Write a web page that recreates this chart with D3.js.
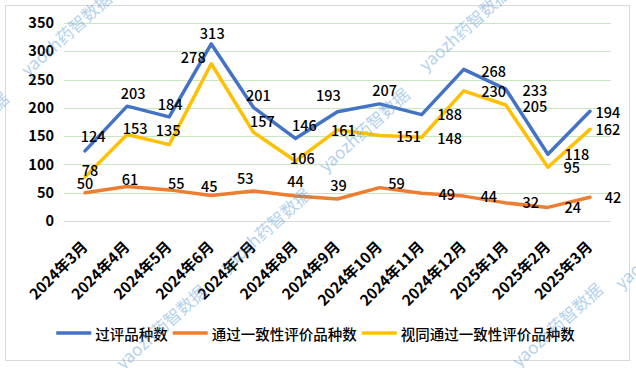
<!DOCTYPE html>
<html>
<head>
<meta charset="utf-8">
<script src="https://cdn.jsdelivr.net/npm/d3@7"></script>
<style>
  html, body { margin: 0; padding: 0; background: #fff; }
  svg { display: block; }
</style>
</head>
<body>
<svg id="chart" width="636" height="368"></svg>
<script>
// ---- data ----
const months = ["2024年3月","2024年4月","2024年5月","2024年6月","2024年7月","2024年8月","2024年9月","2024年10月","2024年11月","2024年12月","2025年1月","2025年2月","2025年3月"];
const seriesNames = ["过评品种数","通过一致性评价品种数","视同通过一致性评价品种数"];
const passed = [124,203,184,313,201,146,193,207,188,268,233,118,194];
const consistency = [50,61,55,45,53,44,39,59,49,44,32,24,42];
const equivalent = [78,153,135,278,157,106,161,151,148,230,205,95,162];
const yTicks = [0,50,100,150,200,250,300,350];

// ---- label placement (pixel offsets of label centre from point) ----
const offPassed = [[8,-15],[6,-14],[1,-13],[1,-11],[5,-13],[9,-14],[-9,-17],[5,-14],[28,-1],[30,1],[29,0],[29,-1],[18,0]];
const offConsistency = [[0,-10],[3,-8],[7,-7],[-2,-10],[-8,-14],[0,-16],[1,-14],[17,-5],[25,0],[25,-1],[25,-1],[25,-1],[23,-1]];
const offEquivalent = [[5,-7],[8,-7],[-1,-15],[-18,-7],[9,-12],[7,-4],[6,0],[29,0],[28,0],[30,0],[29,0],[24,-1],[18,-1]];

const colors = ["#4472C4","#ED7D31","#FFC000"];
const FONT = "'Noto Sans CJK SC','Noto Sans',sans-serif";

const svg = d3.select("#chart");

// frame
svg.append("rect").attr("x",5.5).attr("y",5.5).attr("width",624).attr("height",355)
  .attr("fill","#fff").attr("stroke","#d9d9d9").attr("stroke-width",1);

const x = d3.scalePoint().domain(months).range([64,611]).padding(0.5);
const y = d3.scaleLinear().domain([0,350]).range([221,23]);

// gridlines
const g = svg.append("g");
g.selectAll("line.grid").data(yTicks).join("line")
  .attr("x1",64).attr("x2",611)
  .attr("y1",d=>Math.round(y(d))+0.5).attr("y2",d=>Math.round(y(d))+0.5)
  .attr("stroke",d=> d===0 ? "#d9d9d9" : "#c6e7c0").attr("stroke-width",1);

// y axis labels
const yAxis = d3.axisLeft(y).tickValues(yTicks).tickSize(0).tickPadding(0);
const ya = svg.append("g").attr("transform","translate(54,0)").call(yAxis);
ya.select(".domain").remove();
ya.selectAll("text").attr("font-family",FONT).attr("font-size",14.5).attr("font-weight","bold").attr("fill","#000");

// x axis labels
const xAxis = d3.axisBottom(x).tickSize(0).tickPadding(0);
const xa = svg.append("g").attr("transform","translate(0,221)").call(xAxis);
xa.select(".domain").remove();
xa.selectAll("text")
  .attr("font-family",FONT).attr("font-size",15).attr("font-weight","bold").attr("fill","#000")
  .attr("text-anchor","end").attr("dy",null).attr("y",null)
  .attr("transform","translate(3,27) rotate(-45)");

// lines
const series = [passed, consistency, equivalent];
const offsets = [offPassed, offConsistency, offEquivalent];
const line = d3.line().x((d,i)=>x(months[i])).y(d=>y(d));
// draw order: orange, yellow, blue
[1,2,0].forEach(k=>{
  svg.append("path").datum(series[k]).attr("d",line)
    .attr("fill","none").attr("stroke",colors[k]).attr("stroke-width",3.5)
    .attr("stroke-linejoin","round").attr("stroke-linecap","round");
});

// data labels
[0,1,2].forEach(k=>{
  svg.append("g").selectAll("text").data(series[k]).join("text")
    .attr("x",(d,i)=>x(months[i])+offsets[k][i][0])
    .attr("y",(d,i)=>y(d)+offsets[k][i][1])
    .attr("text-anchor","middle").attr("dominant-baseline","central")
    .attr("font-family",FONT).attr("font-size",14.5).attr("font-weight",500).attr("fill","#000")
    .text(d=>d);
});

// legend
const leg = svg.append("g");
let cx = 0;
seriesNames.forEach((name,k)=>{
  const it = leg.append("g").attr("transform",`translate(${cx},0)`);
  it.append("line").attr("x1",0).attr("x2",35).attr("y1",0).attr("y2",0)
    .attr("stroke",colors[k]).attr("stroke-width",3.5);
  const t = it.append("text").attr("x",39).attr("y",0).attr("dominant-baseline","central")
    .attr("font-family",FONT).attr("font-size",14.5).attr("font-weight",500).attr("fill","#000").text(name);
  const w = t.node().getComputedTextLength();
  cx += 39 + w + 5;
});
const totalW = cx - 5;
leg.attr("transform",`translate(${315.5 - totalW/2},333)`);

// watermarks
const wmStarts = [[-75,177],[28,77],[123,370],[227,273],[326,173],[426,72],[519,368],[622,290]];
svg.append("g").selectAll("text").data(wmStarts).join("text")
  .attr("transform",d=>`translate(${d[0]},${d[1]}) rotate(-42)`)
  .attr("font-family",FONT).attr("font-size",17).attr("fill","#5b9bd5").attr("opacity",0.45)
  .text("yaozh药智数据");
</script>
</body>
</html>
